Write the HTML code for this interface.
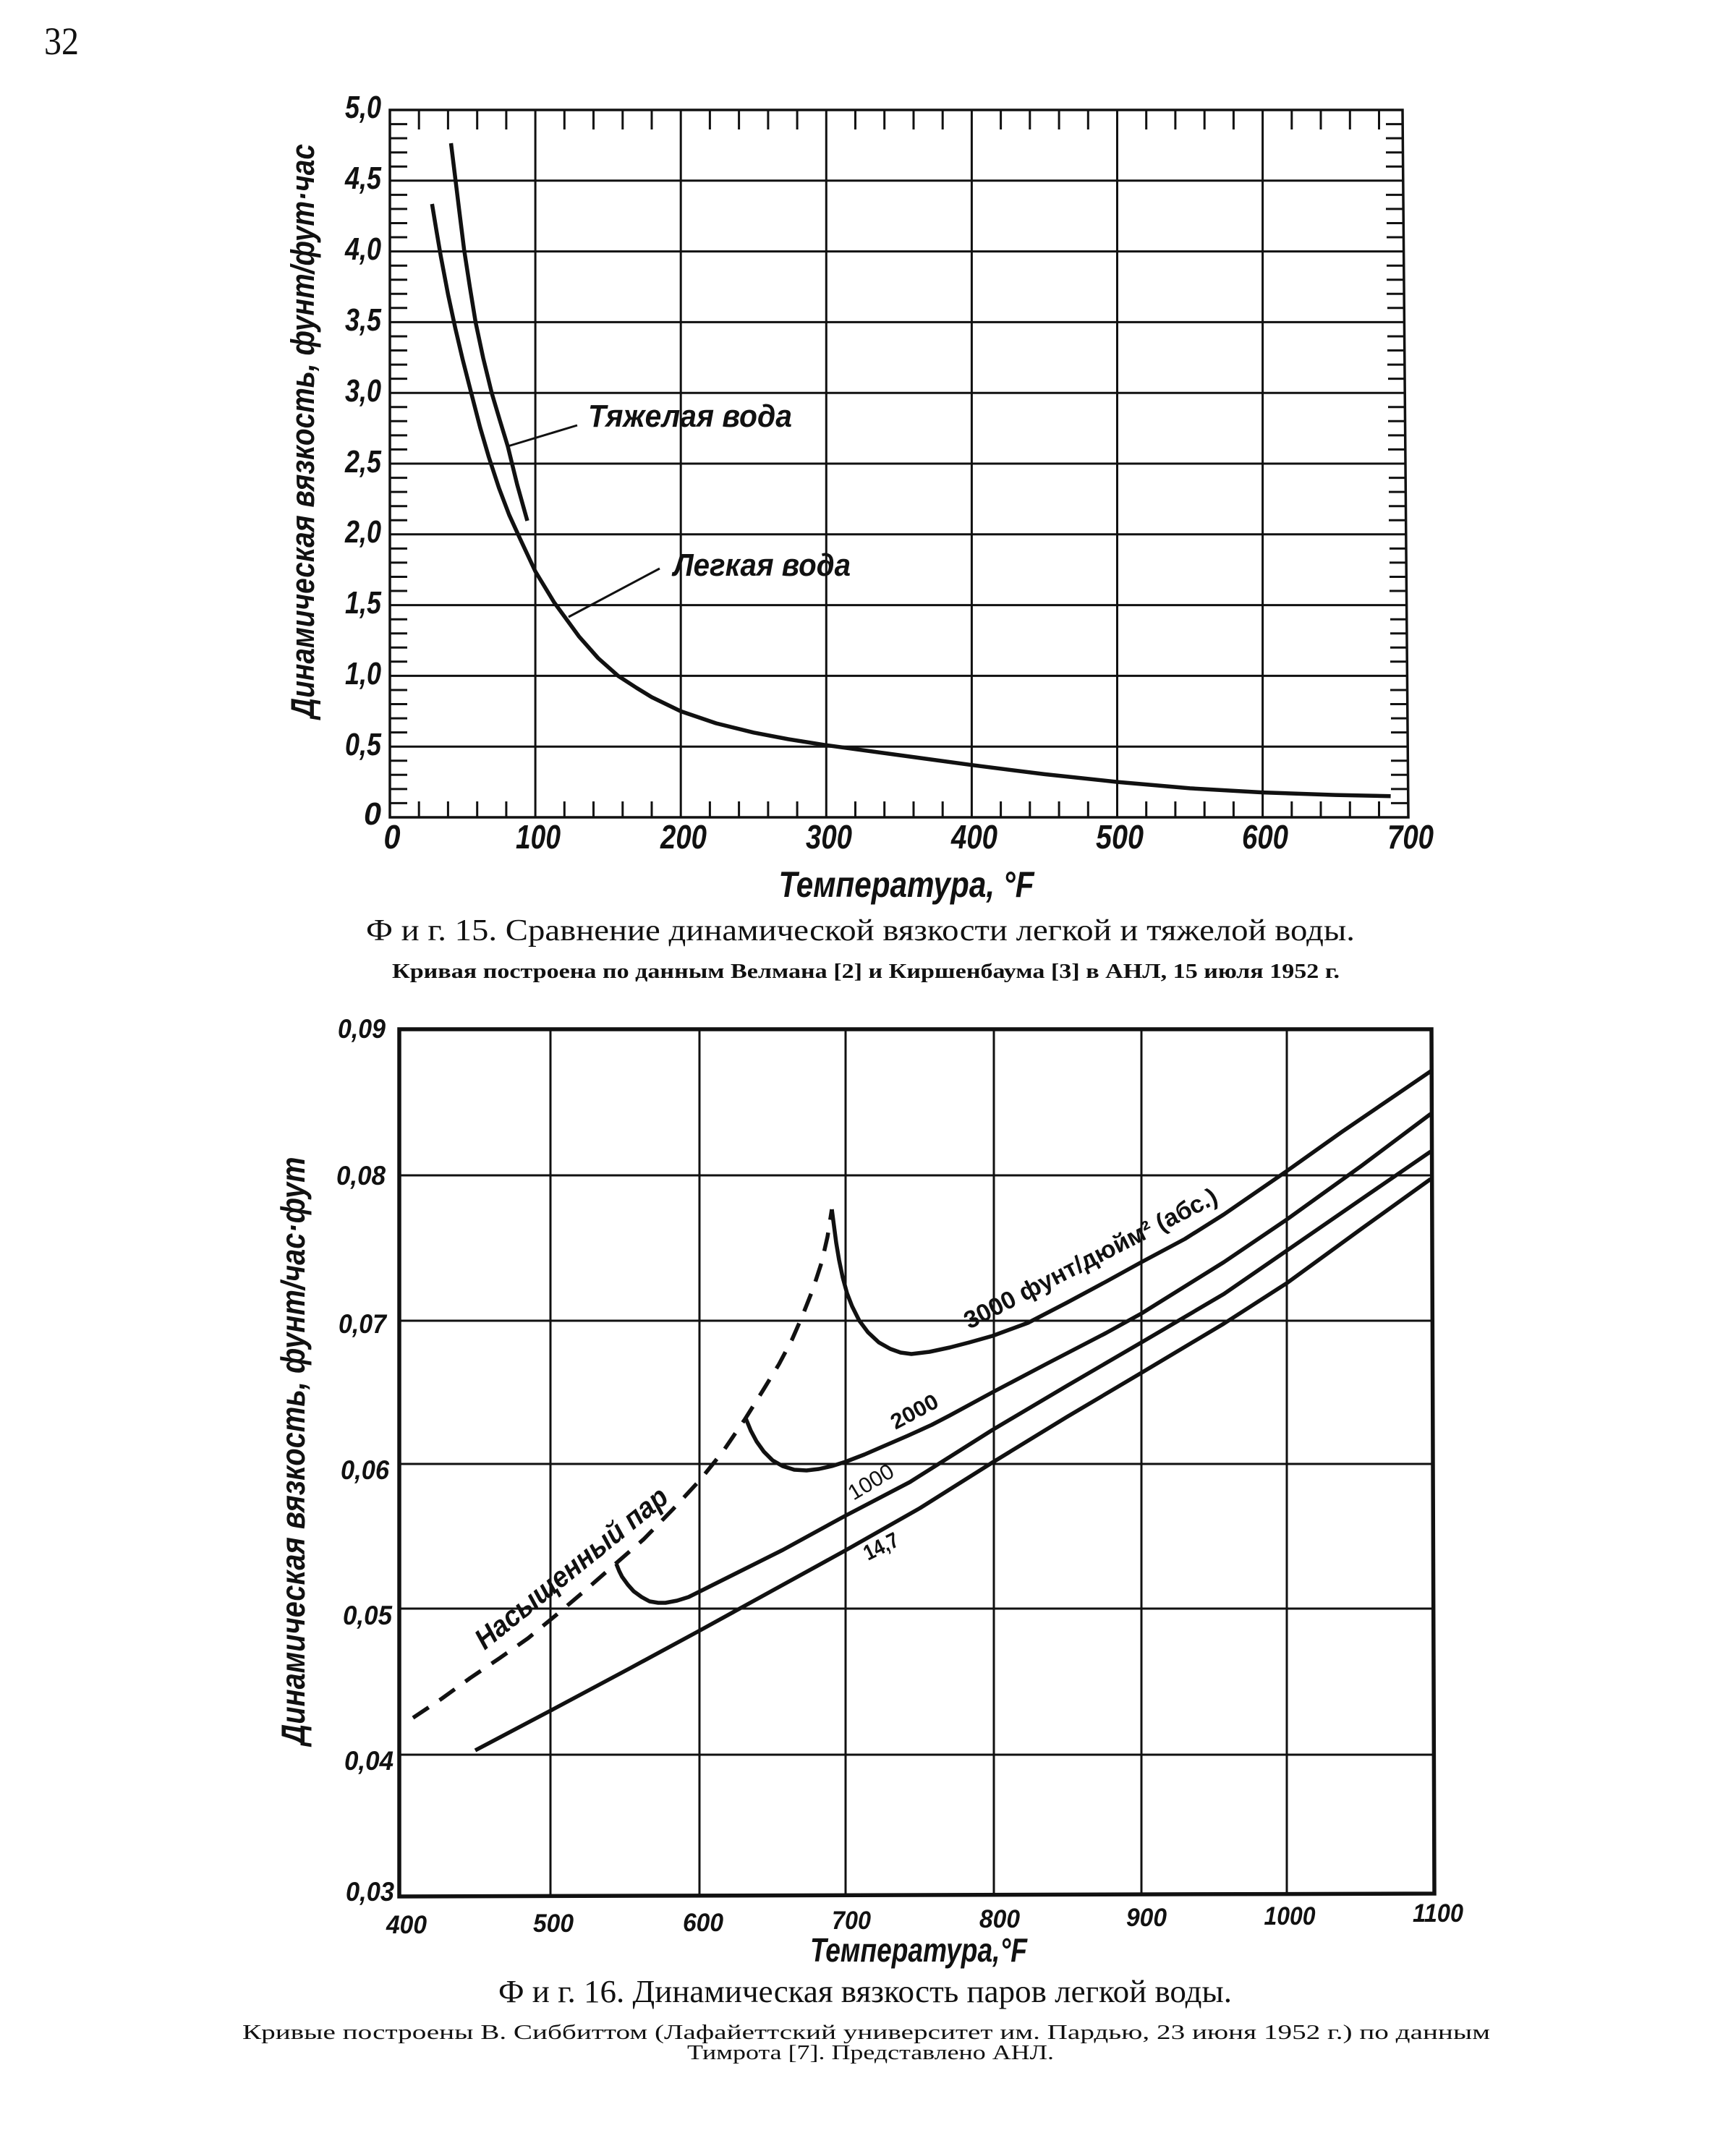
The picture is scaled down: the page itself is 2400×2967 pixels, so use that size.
<!DOCTYPE html>
<html><head><meta charset="utf-8"><style>
html,body{margin:0;padding:0;background:#fff;}
svg{display:block;}
.s{font-family:"Liberation Sans","DejaVu Sans",sans-serif;font-style:italic;fill:#111;}
.r{font-family:"Liberation Serif","DejaVu Serif",serif;fill:#111;}
</style></head><body>
<svg xmlns="http://www.w3.org/2000/svg" width="2400" height="2967" viewBox="0 0 2400 2967">
<rect width="2400" height="2967" fill="#fff"/>
<text class="r" x="61" y="75" font-size="54" textLength="48" lengthAdjust="spacingAndGlyphs">32</text>

<!-- ===== Chart 1 ===== -->
<g stroke="#111" fill="none" stroke-width="3.5">
<polygon points="539,152 1939,152 1947,1130 539,1130"/>
</g>
<g stroke="#111" stroke-width="3">
<path d="M539 249.8H1940M539 347.6H1941M539 445.4H1942M539 543.2H1942M539 641H1943M539 738.8H1944M539 836.6H1945M539 934.4H1945M539 1032.2H1946"/>
<path d="M740.1 152V1130M941.2 152V1130M1142.3 152V1130M1343.4 152V1130M1544.5 152V1130M1745.6 152V1130"/>
<path d="M539 1110.4h24M539 1090.9h24M539 1071.3h24M539 1051.8h24M539 1012.6h24M539 993.1h24M539 973.5h24M539 954h24M539 914.8h24M539 895.3h24M539 875.7h24M539 856.2h24M539 817h24M539 797.5h24M539 777.9h24M539 758.4h24M539 719.2h24M539 699.7h24M539 680.1h24M539 660.6h24M539 621.4h24M539 601.9h24M539 582.3h24M539 562.8h24M539 523.6h24M539 504.1h24M539 484.5h24M539 465h24M539 425.8h24M539 406.3h24M539 386.7h24M539 367.2h24M539 328h24M539 308.5h24M539 288.9h24M539 269.4h24M539 230.2h24M539 210.7h24M539 191.1h24M539 171.6h24"/>
<path d="M1946 1110.4h-23M1946 1090.9h-23M1946 1071.3h-23M1946 1051.8h-23M1946 1012.6h-23M1946 993.1h-23M1945 973.5h-23M1945 954h-23M1945 914.8h-23M1945 895.3h-23M1945 875.7h-23M1945 856.2h-23M1944 817h-23M1944 797.5h-23M1944 777.9h-23M1944 758.4h-23M1943 719.2h-23M1943 699.7h-23M1943 680.1h-23M1943 660.6h-23M1942 621.4h-23M1942 601.9h-23M1942 582.3h-23M1942 562.8h-23M1942 523.6h-23M1941 504.1h-23M1941 484.5h-23M1941 465h-23M1941 425.8h-23M1940 406.3h-23M1940 386.7h-23M1940 367.2h-23M1940 328h-23M1940 308.5h-23M1939 288.9h-23M1939 269.4h-23M1939 230.2h-23M1939 210.7h-23M1939 191.1h-23M1939 171.6h-23"/>
<path d="M579.2 152v27M619.4 152v27M659.7 152v27M699.9 152v27M780.3 152v27M820.5 152v27M860.8 152v27M901 152v27M981.4 152v27M1021.6 152v27M1061.9 152v27M1102.1 152v27M1182.5 152v27M1222.7 152v27M1263 152v27M1303.2 152v27M1383.6 152v27M1423.8 152v27M1464.1 152v27M1504.3 152v27M1584.7 152v27M1624.9 152v27M1665.2 152v27M1705.4 152v27M1785.8 152v27M1826 152v27M1866.3 152v27M1906.5 152v27"/>
<path d="M579.2 1130v-22M619.4 1130v-22M659.7 1130v-22M699.9 1130v-22M780.3 1130v-22M820.5 1130v-22M860.8 1130v-22M901 1130v-22M981.4 1130v-22M1021.6 1130v-22M1061.9 1130v-22M1102.1 1130v-22M1182.5 1130v-22M1222.7 1130v-22M1263 1130v-22M1303.2 1130v-22M1383.6 1130v-22M1423.8 1130v-22M1464.1 1130v-22M1504.3 1130v-22M1584.7 1130v-22M1624.9 1130v-22M1665.2 1130v-22M1705.4 1130v-22M1785.8 1130v-22M1826 1130v-22M1866.3 1130v-22M1906.5 1130v-22"/>
</g>
<g stroke="#111" fill="none" stroke-width="5.5" stroke-linejoin="round" stroke-linecap="butt">
<polyline points="597.3,282 603.4,319.1 609.4,354.3 619.4,407 629.5,453.9 639.6,496.9 651.6,543.8 663.7,590.7 675.7,631.7 689.8,674.7 703.9,711.8 720,747 740.1,790 766.2,833 800.4,879.9 827,910 854.7,934.6 880,951 901,963.9 941.2,983.4 990,1000 1041.8,1012.8 1090,1022 1142.3,1030.3 1242.9,1044 1343.4,1057.7 1444,1070.4 1544.6,1081.1 1645.1,1089.9 1745.7,1095.6 1846.2,1099.1 1922.6,1100.7"/>
<polyline points="623.5,198 629.5,247 635.5,296 641.6,345 649.6,397 657.6,446 668,495 680,544 691,581 702,617 715,670 729,720"/>
</g>
<g stroke="#111" stroke-width="3" fill="none">
<line x1="702" y1="617" x2="798" y2="588"/>
<line x1="786" y1="853" x2="912" y2="786"/>
</g>
<text class="s" x="813" y="590" font-size="44" font-weight="bold" textLength="282" lengthAdjust="spacingAndGlyphs">Тяжелая вода</text>
<text class="s" x="931" y="796" font-size="44" font-weight="bold" textLength="245" lengthAdjust="spacingAndGlyphs">Легкая вода</text>
<g class="s" font-size="44" font-weight="bold" text-anchor="end">
<text x="527" y="163" textLength="50" lengthAdjust="spacingAndGlyphs">5,0</text>
<text x="527" y="261" textLength="50" lengthAdjust="spacingAndGlyphs">4,5</text>
<text x="527" y="359" textLength="50" lengthAdjust="spacingAndGlyphs">4,0</text>
<text x="527" y="457" textLength="50" lengthAdjust="spacingAndGlyphs">3,5</text>
<text x="527" y="555" textLength="50" lengthAdjust="spacingAndGlyphs">3,0</text>
<text x="527" y="653" textLength="50" lengthAdjust="spacingAndGlyphs">2,5</text>
<text x="527" y="750" textLength="50" lengthAdjust="spacingAndGlyphs">2,0</text>
<text x="527" y="848" textLength="50" lengthAdjust="spacingAndGlyphs">1,5</text>
<text x="527" y="946" textLength="50" lengthAdjust="spacingAndGlyphs">1,0</text>
<text x="527" y="1044" textLength="50" lengthAdjust="spacingAndGlyphs">0,5</text>
<text x="527" y="1140" textLength="24" lengthAdjust="spacingAndGlyphs">0</text>
</g>
<g class="s" font-size="46" font-weight="bold" text-anchor="middle">
<text x="542" y="1173" textLength="23" lengthAdjust="spacingAndGlyphs">0</text>
<text x="744" y="1173" textLength="62" lengthAdjust="spacingAndGlyphs">100</text>
<text x="945" y="1173" textLength="64" lengthAdjust="spacingAndGlyphs">200</text>
<text x="1146" y="1173" textLength="64" lengthAdjust="spacingAndGlyphs">300</text>
<text x="1347" y="1173" textLength="64" lengthAdjust="spacingAndGlyphs">400</text>
<text x="1548" y="1173" textLength="66" lengthAdjust="spacingAndGlyphs">500</text>
<text x="1749" y="1173" textLength="64" lengthAdjust="spacingAndGlyphs">600</text>
<text x="1950" y="1173" textLength="64" lengthAdjust="spacingAndGlyphs">700</text>
</g>
<text class="s" x="1253" y="1240" font-size="50" font-weight="bold" text-anchor="middle" textLength="353" lengthAdjust="spacingAndGlyphs">Температура, °F</text>
<text class="s" transform="translate(434,596) rotate(-90)" x="0" y="0" font-size="45" font-weight="bold" text-anchor="middle" textLength="794" lengthAdjust="spacingAndGlyphs">Динамическая вязкость, фунт/фут·час</text>

<text class="r" x="506" y="1300" font-size="42" textLength="1367" lengthAdjust="spacingAndGlyphs">Ф и г.  15.  Сравнение  динамической  вязкости  легкой  и  тяжелой  воды.</text>
<text class="r" x="542" y="1352" font-size="29" font-weight="bold" textLength="1310" lengthAdjust="spacingAndGlyphs">Кривая построена по данным Велмана [2] и Киршенбаума [3] в АНЛ, 15 июля 1952 г.</text>

<!-- ===== Chart 2 ===== -->
<g stroke="#111" stroke-width="3" fill="none">
<path d="M552 1625H1980M552 1826H1981M552 2024H1981M552 2224H1982M552 2426H1983"/>
<path d="M761 1423V2621M967 1423V2621M1169 1423V2620M1374 1423V2620M1578 1423V2619M1779 1423V2619"/>
</g>
<polygon points="552,1423 1979,1423 1983,2618 552,2622" fill="none" stroke="#111" stroke-width="5.5"/>

<g stroke="#111" fill="none" stroke-width="5.5" stroke-linejoin="round">
<polyline points="1150,1672 1153,1695 1156,1718 1160,1742 1165,1766 1171,1788 1178,1806 1188,1826 1200,1842 1215,1856 1231,1865 1245,1870 1260,1872 1285,1869 1313,1863 1340,1856 1372,1847 1421,1829 1475,1801 1529,1772 1578,1745 1638,1713 1692,1679 1779,1619 1855,1565 1978,1481"/>
<polyline points="1031,1961 1038,1978 1046,1993 1056,2007 1068,2019 1082,2027 1098,2032 1115,2033 1132,2031 1150,2027 1169,2021 1195,2011 1218,2001 1255,1985 1288,1970 1313,1957 1372,1925 1448,1885 1529,1843 1578,1816 1692,1745 1779,1686 1882,1612 1978,1540"/>
<polyline points="852,2162 856,2172 860,2180 868,2191 876,2200 887,2208 898,2214 910,2216 920,2216 936,2213 952,2208 974,2197 1028,2170 1082,2143 1168,2096 1258,2049 1372,1977 1475,1916 1578,1856 1692,1789 1779,1729 1882,1658 1978,1592"/>
<polyline points="657,2420 765,2363 870,2307 968,2254 1068,2199 1168,2144 1272,2085 1372,2022 1475,1959 1578,1898 1692,1830 1779,1774 1882,1699 1978,1630"/>
<polyline stroke-dasharray="26 18" points="571,2375 610,2349 650,2320 690,2293 730,2265 770,2232 810,2198 851,2162 890,2128 930,2087 968,2046 1000,2006 1030,1962 1055,1922 1077,1886 1095,1852 1109,1820 1124,1782 1136,1745 1144,1710 1150,1672"/>
</g>

<text class="s" transform="translate(1340,1838) rotate(-27)" font-size="34" font-weight="bold" textLength="388" lengthAdjust="spacingAndGlyphs" style="font-style:normal">3000 фунт/дюйм² (абс.)</text>
<text class="s" transform="translate(1238,1977) rotate(-28)" font-size="30" font-weight="bold" textLength="70" lengthAdjust="spacingAndGlyphs" style="font-style:normal">2000</text>
<text class="s" transform="translate(1180,2075) rotate(-31)" font-size="30" textLength="68" lengthAdjust="spacingAndGlyphs" style="font-style:normal">1000</text>
<text class="s" transform="translate(1200,2158) rotate(-26)" font-size="30" font-weight="bold" textLength="50" lengthAdjust="spacingAndGlyphs" style="font-style:normal">14,7</text>
<text class="s" transform="translate(670,2282) rotate(-39)" font-size="40" font-weight="bold" textLength="330" lengthAdjust="spacingAndGlyphs">Насыщенный пар</text>

<g class="s" font-size="37" font-weight="bold" text-anchor="end">
<text x="533" y="1435" textLength="66" lengthAdjust="spacingAndGlyphs">0,09</text>
<text x="533" y="1638" textLength="68" lengthAdjust="spacingAndGlyphs">0,08</text>
<text x="534" y="1843" textLength="66" lengthAdjust="spacingAndGlyphs">0,07</text>
<text x="538" y="2045" textLength="67" lengthAdjust="spacingAndGlyphs">0,06</text>
<text x="542" y="2246" textLength="68" lengthAdjust="spacingAndGlyphs">0,05</text>
<text x="544" y="2447" textLength="68" lengthAdjust="spacingAndGlyphs">0,04</text>
<text x="545" y="2628" textLength="67" lengthAdjust="spacingAndGlyphs">0,03</text>
</g>
<g class="s" font-size="35" font-weight="bold" text-anchor="middle">
<text x="562" y="2673" textLength="56" lengthAdjust="spacingAndGlyphs">400</text>
<text x="765" y="2671" textLength="56" lengthAdjust="spacingAndGlyphs">500</text>
<text x="972" y="2670" textLength="56" lengthAdjust="spacingAndGlyphs">600</text>
<text x="1177" y="2667" textLength="54" lengthAdjust="spacingAndGlyphs">700</text>
<text x="1382" y="2665" textLength="56" lengthAdjust="spacingAndGlyphs">800</text>
<text x="1585" y="2663" textLength="56" lengthAdjust="spacingAndGlyphs">900</text>
<text x="1783" y="2661" textLength="71" lengthAdjust="spacingAndGlyphs">1000</text>
<text x="1988" y="2657" textLength="70" lengthAdjust="spacingAndGlyphs">1100</text>
</g>
<text class="s" x="1120" y="2712" font-size="46" font-weight="bold" textLength="300" lengthAdjust="spacingAndGlyphs">Температура,°F</text>
<text class="s" transform="translate(421,2006) rotate(-90)" x="0" y="0" font-size="46" font-weight="bold" text-anchor="middle" textLength="813" lengthAdjust="spacingAndGlyphs">Динамическая вязкость, фунт/час·фут</text>

<text class="r" x="689" y="2768" font-size="44" textLength="1014" lengthAdjust="spacingAndGlyphs">Ф и г. 16. Динамическая вязкость паров легкой воды.</text>
<text class="r" x="335" y="2819" font-size="29" textLength="1725" lengthAdjust="spacingAndGlyphs">Кривые   построены   В.   Сиббиттом   (Лафайеттский   университет   им.   Пардью,   23   июня   1952   г.)   по   данным</text>
<text class="r" x="950" y="2847" font-size="29" textLength="507" lengthAdjust="spacingAndGlyphs">Тимрота [7]. Представлено АНЛ.</text>
</svg>
</body></html>
